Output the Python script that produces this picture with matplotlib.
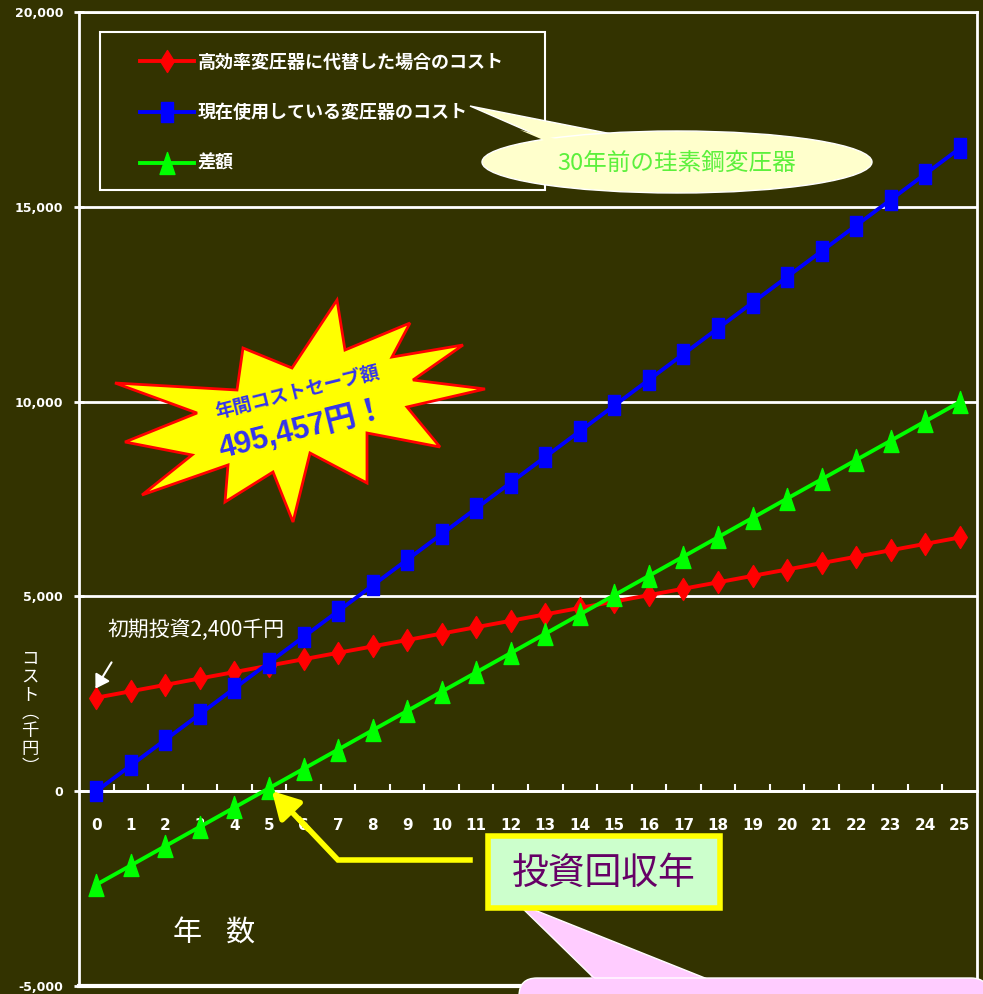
"""
変圧器コスト比較グラフ
高効率変圧器に代替した場合と現在使用している変圧器のコスト比較
"""
import matplotlib
matplotlib.use('Agg')
import matplotlib.pyplot as plt
from matplotlib.path import Path
from matplotlib.patches import Polygon, Ellipse, Rectangle, FancyBboxPatch, FancyArrowPatch
from matplotlib.transforms import Affine2D
from matplotlib.ticker import FuncFormatter

plt.rcParams['font.family'] = ['Noto Sans CJK JP', 'DejaVu Sans']
plt.rcParams['axes.unicode_minus'] = False

# データ（千円）
years = list(range(26))
new_cost = [2400, 2565, 2729, 2894, 3058, 3223, 3387, 3552, 3716, 3881, 4045, 4210, 4374,
            4539, 4703, 4868, 5032, 5197, 5361, 5526, 5690, 5855, 6019, 6184, 6348, 6513]
old_cost = [0, 660, 1320, 1980, 2640, 3300, 3960, 4620, 5280, 5940, 6600, 7260, 7920,
            8580, 9240, 9900, 10560, 11220, 11880, 12540, 13200, 13860, 14520, 15180, 15840, 16500]
diff = [-2400, -1905, -1409, -914, -418, 77, 573, 1068, 1564, 2059, 2555, 3050, 3546,
        4041, 4537, 5032, 5528, 6023, 6519, 7014, 7510, 8005, 8501, 8996, 9492, 9987]
y_ticks = [-5000, 0, 5000, 10000, 15000, 20000]
labels = ['高効率変圧器に代替した場合のコスト', '現在使用している変圧器のコスト', '差額']

BG = '#333300'
W, H = 983, 994
fig = plt.figure(figsize=(W / 100, H / 100), dpi=100, facecolor=BG)
# ピクセル座標（左上原点）
pix = Affine2D().scale(1 / W, -1 / H).translate(0, 1) + fig.transFigure

ax = fig.add_axes([79 / W, 1 - 986 / H, (977 - 79) / W, (986 - 12) / H])
ax.set_facecolor(BG)

# マーカー形状
diamond = Path([(0, 1), (0.62, 0), (0, -1), (-0.62, 0), (0, 1)],
               [Path.MOVETO, Path.LINETO, Path.LINETO, Path.LINETO, Path.CLOSEPOLY])
rect = Path([(-0.62, -1), (0.62, -1), (0.62, 1), (-0.62, 1), (-0.62, -1)],
            [Path.MOVETO, Path.LINETO, Path.LINETO, Path.LINETO, Path.CLOSEPOLY])
tri = Path([(0, 1), (0.68, -1), (-0.68, -1), (0, 1)],
           [Path.MOVETO, Path.LINETO, Path.LINETO, Path.CLOSEPOLY])

ax.plot(years, new_cost, color='#FF0000', lw=2.8, marker=diamond, ms=15.8,
        mec='#FF0000', mfc='#FF0000', label=labels[0], zorder=4)
ax.plot(years, old_cost, color='#0000FF', lw=2.8, marker=rect, ms=13.9,
        mec='#0000FF', mfc='#0000FF', label=labels[1], zorder=4)
ax.plot(years, diff, color='#00FF00', lw=2.8, marker=tri, ms=15.8,
        mec='#00FF00', mfc='#00FF00', label=labels[2], zorder=4)

ax.set_xlim(-0.5, 25.5)
ax.set_ylim(-5000, 20000)

# 軸・目盛り
for s in ['top', 'left', 'right']:
    ax.spines[s].set_color('white')
    ax.spines[s].set_linewidth(2)
ax.spines['bottom'].set_position(('data', 0))
ax.spines['bottom'].set_color('white')
ax.spines['bottom'].set_linewidth(2)
ax.axhline(-5000, color='white', lw=3, clip_on=False, zorder=3)

ax.set_yticks(y_ticks)
ax.yaxis.set_major_formatter(FuncFormatter(lambda v, p: f'{int(v):,}'))
ax.yaxis.grid(True, color='white', lw=2)
ax.tick_params(axis='y', colors='white', direction='inout', length=7, width=2, pad=8)
for t in ax.get_yticklabels():
    t.set_family(['Liberation Sans Narrow', 'DejaVu Sans'])
    t.set_fontweight('bold')
    t.set_fontsize(9)

ax.set_xticks(years)
ax.set_xticks([i + 0.5 for i in years[:-1]], minor=True)
ax.tick_params(axis='x', which='major', length=0, colors='white', pad=19)
ax.tick_params(axis='x', which='minor', direction='in', length=5, width=1.5, color='white')
for t in ax.get_xticklabels():
    t.set_family(['Liberation Sans Narrow', 'DejaVu Sans'])
    t.set_fontweight('bold')
    t.set_fontsize(11)

# 凡例（枠は別に描く）
fig.patches.append(Rectangle((100, 32), 445, 158, transform=pix, fc='none', ec='white',
                             lw=1.5, zorder=5))
leg = ax.legend(loc='upper left', bbox_to_anchor=(119 / W, 1 - 190 / H, 424 / W, 158 / H),
                bbox_transform=fig.transFigure, mode='expand', borderaxespad=0,
                prop={'weight': 'bold', 'size': 13}, labelcolor='white', frameon=False,
                handlelength=3.0, handletextpad=0.2, labelspacing=1.75, borderpad=1.15)
leg.set_zorder(6)

# 軸ラベル
fig.text(30, 713, 'コ\nス\nト\n︵\n千\n円\n︶', transform=pix, color='white', fontsize=12.5,
         ha='center', va='center', linespacing=1.0)
fig.text(187, 933, '年', transform=pix, color='white', fontsize=21, ha='center', va='center')
fig.text(240, 933, '数', transform=pix, color='white', fontsize=21, ha='center', va='center')

# 吹き出し：30年前の珪素鋼変圧器
tail1 = [(470, 106), (548, 140), (612, 134)]
fig.patches.append(Polygon(tail1, closed=True, transform=pix, fc='#FFFFCC', ec='white', lw=1, zorder=5))
fig.patches.append(Ellipse((677, 162), 390, 62, transform=pix, fc='#FFFFCC', ec='white', lw=1, zorder=5))
fig.patches.append(Polygon([(520, 130), (548, 142), (612, 136), (600, 150)], closed=True,
                           transform=pix, fc='#FFFFCC', ec='none', zorder=5))
fig.text(677, 163, '30年前の珪素鋼変圧器', transform=pix, color='#5CF03C', fontsize=17,
         ha='center', va='center', zorder=6)

# 爆発マーク
burst = [(337, 300), (345, 350), (410, 323), (392, 357), (463, 345), (413, 380),
         (485, 389), (407, 407), (440, 447), (367, 433), (367, 483), (310, 453),
         (293, 522), (273, 472), (225, 502), (228, 465), (142, 495), (192, 455),
         (125, 442), (197, 413), (115, 383), (237, 390), (243, 348), (292, 368)]
fig.patches.append(Polygon(burst, closed=True, transform=pix, fc='#FFFF00', ec='#FF0000',
                           lw=2, zorder=5))
fig.text(297, 392, '年間コストセーブ額', transform=pix, color='#3333EE', fontsize=13.5,
         fontweight='bold', ha='center', va='center', rotation=14, zorder=6)
fig.text(302, 430, '495,457円！', transform=pix, color='#3333EE', fontsize=22,
         fontweight='bold', ha='center', va='center', rotation=14, zorder=6,
         family=['Liberation Sans', 'Noto Sans CJK JP'])

# 初期投資の注記
fig.text(108, 630, '初期投資2,400千円', transform=pix, color='white', fontsize=15,
         ha='left', va='center')
fig.patches.append(FancyArrowPatch((113, 660), (94, 691), transform=pix, color='white',
                                   arrowstyle='-|>,head_length=8,head_width=5', lw=1.5,
                                   mutation_scale=1, zorder=6))

# 投資回収年
fig.lines.append(plt.Line2D([470, 338, 300], [860, 860, 820], transform=pix, color='#FFFF00',
                            lw=4, solid_joinstyle='miter', zorder=6))
fig.patches.append(FancyArrowPatch((310, 831), (270, 789), transform=pix, color='#FFFF00',
                                   arrowstyle='-|>,head_length=16,head_width=9', lw=4,
                                   mutation_scale=1, zorder=6))
fig.patches.append(Rectangle((488, 836), 232, 72, transform=pix, fc='#CCFFCC', ec='#FFFF00',
                             lw=4, zorder=6))
fig.text(604, 873, '投資回収年', transform=pix, color='#660066', fontsize=26.5,
         ha='center', va='center', zorder=7)

# 下部の吹き出し
fig.patches.append(Polygon([(517, 903), (598, 982), (715, 982)], closed=True, transform=pix,
                           fc='#FFCCFF', ec='white', lw=1, zorder=5))
fig.patches.append(FancyBboxPatch((519, 978), 470, 60, boxstyle='round,pad=0,rounding_size=18',
                                  transform=pix, fc='#FFCCFF', ec='white', lw=1, zorder=5))
fig.patches.append(Polygon([(590, 975), (598, 982), (715, 982), (700, 990), (600, 990)],
                           closed=True, transform=pix, fc='#FFCCFF', ec='none', zorder=5))

fig.savefig('out.png', dpi=100, facecolor=BG)
